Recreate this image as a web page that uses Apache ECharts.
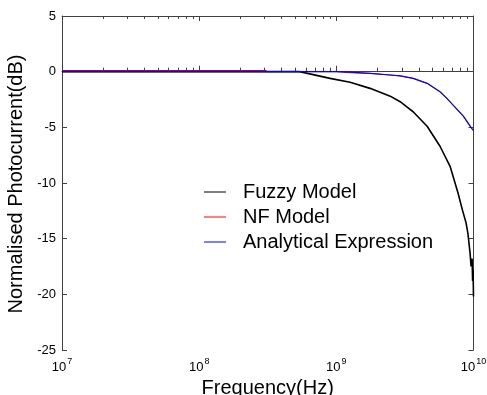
<!DOCTYPE html>
<html>
<head>
<meta charset="utf-8">
<script src="https://cdn.jsdelivr.net/npm/echarts@6/dist/echarts.min.js"></script>
<style>html,body{margin:0;padding:0;background:#fff}#c{width:487px;height:395px}</style>
</head>
<body>
<div id="c"></div>
<script>
// ---- data (frequency in Hz, response in dB) ----
const fuzzyFreq = [1e7, 1e8, 3e8, 5.4e8, 6.4e8, 9.0e8, 1.26e9, 1.76e9, 2.47e9, 2.92e9, 3.3e9, 3.63e9, 4.59e9, 5.7e9, 6.75e9, 7.71e9, 8.25e9, 8.83e9, 9.1e9, 9.44e9, 9.6e9, 9.77e9, 9.85e9, 9.93e9, 1e10];
const fuzzyDb   = [0, 0, 0, 0, -0.2, -0.6, -0.95, -1.5, -2.2, -2.7, -3.2, -3.6, -4.9, -6.7, -8.5, -10.9, -12.3, -13.6, -14.5, -16.3, -17.5, -16.8, -18.8, -17.8, -20.2];

const nfLowFreq  = [1e7, 1e8, 3.1e8];
const nfLowDb    = [0.05, 0.05, 0.05];
const nfHighFreq = [3.1e8, 1e9, 1.26e9, 1.76e9, 2.47e9, 2.92e9, 3.63e9, 4.59e9, 5.7e9, 7.1e9, 8.43e9, 9.7e9, 1e10];
const nfHighDb   = [0, 0, -0.1, -0.15, -0.3, -0.38, -0.6, -1.05, -1.8, -3.0, -4.0, -5.1, -5.3];

const analyticFreq = [1e7, 1e8, 1e9, 1.26e9, 1.76e9, 2.47e9, 2.92e9, 3.63e9, 4.59e9, 5.7e9, 6.4e9, 7.1e9, 8.43e9, 9.7e9, 1e10];
const analyticDb   = [0, 0, 0, -0.05, -0.15, -0.3, -0.38, -0.6, -1.05, -1.8, -2.4, -3.0, -4.0, -5.1, -5.3];

const xMajorTicks = [1e7, 1e8, 1e9, 1e10];
const xMinorMultipliers = [2, 3, 4, 5, 6, 7, 8, 9];
const yTicks = [5, 0, -5, -10, -15, -20, -25];

const seriesNames = ['Fuzzy Model', 'NF Model', 'Analytical Expression'];

// ---- build ----
const zip = (xs, ys) => xs.map((x, i) => [x, ys[i]]);
const minorTicks = [];
for (let e = 7; e < 10; e++) xMinorMultipliers.forEach(m => minorTicks.push(m * Math.pow(10, e)));

const FONT = 'Liberation Sans, Arial, Helvetica, sans-serif';
const AX = '#404040';

function xAxisDef(pos, ticks, len, showLabel, showLine) {
  return {
    type: 'log', logBase: 10, min: 1e7, max: 1e10, position: pos,
    gridIndex: 0,
    axisLine: { show: showLine, lineStyle: { color: AX, width: 1 } },
    axisTick: { show: true, inside: true, length: len, customValues: ticks, lineStyle: { color: AX, width: 1 } },
    axisLabel: showLabel ? {
      show: true, customValues: xMajorTicks, margin: 5,
      formatter: v => '{b|10}{s|' + Math.round(Math.log10(v)) + '}',
      rich: {
        b: { fontSize: 13, fontFamily: FONT, color: '#000', padding: [6, 0, 0, 0] },
        s: { fontSize: 9, fontFamily: FONT, color: '#000', padding: [0, 0, 6, 1] }
      }
    } : { show: false },
    splitLine: { show: false }, minorTick: { show: false }
  };
}

const option = {
  animation: false,
  backgroundColor: '#fff',
  grid: { left: 62, right: 13.5, top: 16, bottom: 45, containLabel: false, outerBoundsMode: 'none' },
  xAxis: [
    Object.assign(xAxisDef('bottom', xMajorTicks, 6, true, true), {
      name: 'Frequency(Hz)', nameLocation: 'middle', nameGap: 28,
      nameTextStyle: { fontSize: 20, fontFamily: FONT, color: '#000' }
    }),
    xAxisDef('bottom', minorTicks, 4, false, false),
    xAxisDef('top', xMajorTicks, 5, false, true),
    xAxisDef('top', minorTicks, 3, false, false)
  ],
  yAxis: [
    {
      type: 'value', min: -25, max: 5, interval: 5, position: 'left',
      name: 'Normalised Photocurrent(dB)', nameLocation: 'middle', nameGap: 24,
      nameTextStyle: { fontSize: 20, fontFamily: FONT, color: '#000', padding: [0, 2, 0, 0] },
      axisLine: { show: true, lineStyle: { color: AX, width: 1 } },
      axisTick: { show: true, inside: true, length: 5, lineStyle: { color: AX } },
      axisLabel: { fontSize: 13, fontFamily: FONT, color: '#000', margin: 6 },
      splitLine: { show: false }
    },
    {
      type: 'value', min: -25, max: 5, interval: 5, position: 'right',
      axisLine: { show: true, lineStyle: { color: AX, width: 1 } },
      axisTick: { show: true, inside: true, length: 5, lineStyle: { color: AX } },
      axisLabel: { show: false },
      splitLine: { show: false }
    }
  ],
  legend: {
    data: seriesNames.map(n => ({ name: n, icon: 'rect' })),
    orient: 'vertical', left: 199, top: 177,
    itemWidth: 22, itemHeight: 1, itemGap: 5,
    textStyle: { fontSize: 20, fontFamily: FONT, color: '#000', lineHeight: 20, padding: [0, 0, 0, 12] }
  },
  series: [
    {
      name: 'NF Model', type: 'line', symbol: 'none', z: 2,
      lineStyle: { color: '#ff0000', width: 2 }, itemStyle: { color: '#ff0000' },
      data: zip(nfLowFreq, nfLowDb)
    },
    {
      name: 'NF Model', type: 'line', symbol: 'none', z: 2,
      lineStyle: { color: '#ff0000', width: 1 }, itemStyle: { color: '#ff0000' },
      data: zip(nfHighFreq, nfHighDb)
    },
    {
      name: 'Fuzzy Model', type: 'line', symbol: 'none', z: 3,
      lineStyle: { color: '#000', width: 1.6 }, itemStyle: { color: '#000' },
      data: zip(fuzzyFreq, fuzzyDb)
    },
    {
      name: 'Analytical Expression', type: 'line', symbol: 'none', z: 4,
      lineStyle: { color: '#0000ff', width: 1.2 }, itemStyle: { color: '#0000ff' },
      data: zip(analyticFreq, analyticDb)
    }
  ]
};

const chart = echarts.init(document.getElementById('c'), null, { renderer: 'canvas' });
chart.setOption(option);
</script>
</body>
</html>
